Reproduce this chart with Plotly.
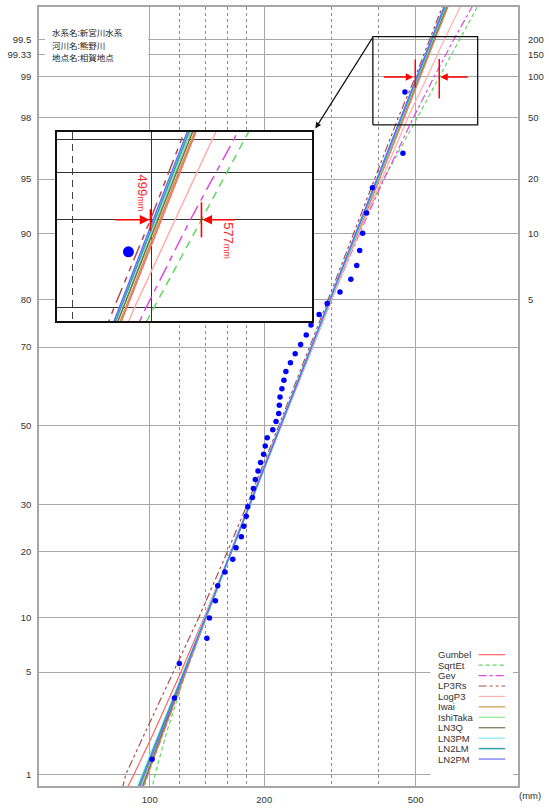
import math
from statistics import NormalDist
import plotly.graph_objects as go

# ---------------- data ----------------
# annual maximum rainfall (mm), ascending order
rain_mm = [101.4, 116.1, 119.6, 141.3, 143.5, 148.8, 150.9, 157.6, 165.3, 168.6,
           174.1, 176.8, 179.3, 181.0, 186.2, 187.3, 189.5, 192.6, 195.6, 199.2,
           201.2, 203.6, 210.6, 214.8, 218.3, 219.1, 220.0, 222.6, 225.3, 228.0,
           234.4, 241.2, 249.3, 257.9, 265.4, 278.8, 292.8, 316.3, 337.8, 350.1,
           356.4, 362.8, 371.5, 385.0, 463.1, 468.7]

# fitted quantiles (mm) at these non-exceedance probabilities (%)
fit_probs = [0.5, 1, 2, 5, 10, 20, 30, 50, 70, 80, 90, 95, 98, 99, 99.5, 99.8]
gumbel   = [81.2, 90.9, 102.2, 120.7, 138.9, 163.7, 183.7, 222.0, 267.9, 300.4, 352.3, 402.1, 466.6, 514.9, 563.1, 626.5]
sqrtet   = [98.0, 103.3, 110.5, 124.5, 141.0, 164.0, 183.5, 220.0, 265.5, 298.0, 352.0, 412.0, 505.0, 577.0, 652.0, 757.0]
gev      = [92.0, 99.0, 108.5, 124.5, 140.5, 163.0, 182.5, 219.5, 266.0, 300.0, 356.0, 413.0, 493.0, 559.0, 630.0, 735.0]
lp3rs    = [82.0, 86.5, 97.0, 115.5, 134.5, 160.0, 180.5, 218.5, 263.5, 294.5, 343.5, 390.0, 450.0, 499.0, 545.0, 605.0]
logp3    = [90.0, 97.5, 107.5, 124.0, 140.5, 163.5, 183.0, 220.5, 267.0, 300.5, 354.5, 407.0, 477.0, 536.0, 595.0, 680.0]
iwai     = [91.0, 98.8, 108.3, 124.4, 140.6, 163.6, 183.0, 220.3, 266.2, 299.0, 351.0, 401.0, 465.0, 512.5, 561.0, 626.0]
ishitaka = [89.5, 97.5, 107.2, 123.6, 140.1, 163.5, 183.2, 220.8, 266.5, 298.8, 350.2, 399.2, 462.0, 508.0, 555.0, 618.0]
ln3q     = [90.5, 98.2, 107.6, 123.8, 140.2, 163.5, 183.0, 220.5, 266.0, 298.2, 349.5, 398.5, 461.5, 509.5, 557.5, 622.0]
ln3pm    = [87.5, 95.9, 106.0, 122.9, 140.0, 163.8, 183.6, 221.3, 266.6, 298.3, 348.9, 397.0, 459.0, 505.6, 552.4, 614.5]
ln2lm    = [88.0, 96.3, 106.3, 123.0, 140.0, 163.7, 183.4, 221.0, 266.3, 298.0, 348.6, 396.8, 458.8, 505.5, 552.5, 615.0]
ln2pm    = [88.7, 96.9, 106.7, 123.4, 140.3, 163.9, 183.5, 220.8, 265.8, 297.3, 347.5, 395.3, 456.7, 502.9, 549.6, 611.7]

dist_names = ["Gumbel", "SqrtEt", "Gev", "LP3Rs", "LogP3", "Iwai",
              "IshiTaka", "LN3Q", "LN3PM", "LN2LM", "LN2PM"]
dist_values = [gumbel, sqrtet, gev, lp3rs, logp3, iwai,
               ishitaka, ln3q, ln3pm, ln2lm, ln2pm]

# 1/100 quantile range marked on the chart
q100_min = 499
q100_max = 577

# axis labels
prob_ticks = [99.5, 99.3333, 99, 98, 95, 90, 80, 70, 50, 30, 20, 10, 5, 1]
prob_tick_text = ["99.5", "99.33", "99", "98", "95", "90", "80", "70",
                  "50", "30", "20", "10", "5", "1"]
return_periods = [200, 150, 100, 50, 20, 10, 5]
x_major = [100, 200, 500]
x_minor = [120, 140, 160, 180, 300, 400]

info_lines = ["水系名:新宮川水系", "河川名:熊野川", "地点名:相賀地点"]

# ---------------- styles ----------------
styles = {
    "Gumbel":   dict(color="#ff6464", width=1.2, dash="solid"),
    "SqrtEt":   dict(color="#5fd85f", width=1.2, dash="4px,3px"),
    "Gev":      dict(color="#e048e0", width=1.2, dash="8px,3px,3px,3px"),
    "LP3Rs":    dict(color="#a8504c", width=1.2, dash="8px,3px,3px,3px,3px,3px"),
    "LogP3":    dict(color="#ffadad", width=1.2, dash="solid"),
    "Iwai":     dict(color="#c89a48", width=1.2, dash="solid"),
    "IshiTaka": dict(color="#8ee88e", width=1.2, dash="solid"),
    "LN3Q":     dict(color="#7a6e52", width=1.2, dash="solid"),
    "LN3PM":    dict(color="#9ceeee", width=2.4, dash="solid"),
    "LN2LM":    dict(color="#2fa6a6", width=1.5, dash="solid"),
    "LN2PM":    dict(color="#6a6aff", width=1.2, dash="solid"),
}


def scale_dash(d, k):
    if d == "solid":
        return d
    return ",".join(f"{float(v.replace('px', '')) * k:g}px" for v in d.split(","))


nd = NormalDist()


def zq(pct):
    """Normal quantile used as the probability-paper coordinate."""
    return nd.inv_cdf(pct / 100.0)


n = len(rain_mm)
plot_pos = [(i - 0.4) / (n + 0.2) * 100 for i in range(1, n + 1)]  # Cunnane
fit_z = [zq(p) for p in fit_probs]

# ---------------- geometry helpers (pixels -> paper) ----------------
W, H = 549, 810
PL, PR, PT, PB = 39, 526, 5, 794


def px(x):
    return (x - PL) / (PR - PL)


def py(y):
    return (PB - y) / (PB - PT)


X_RANGE = [1.7088, 2.9682]
Y_RANGE = [-2.4045, 2.7931]
INSET_X_RANGE = [2.5826, 2.898]
INSET_Y_RANGE = [2.0107, 2.599]

fig = go.Figure()

# fitted curves, main chart
for name, vals in zip(dist_names, dist_values):
    st = styles[name]
    fig.add_trace(go.Scatter(x=vals, y=fit_z, mode="lines", name=name,
                             line=dict(color=st["color"], width=st["width"], dash=st["dash"]),
                             xaxis="x", yaxis="y", hoverinfo="skip", showlegend=False))

# observed points
fig.add_trace(go.Scatter(x=rain_mm, y=[zq(p) for p in plot_pos], mode="markers",
                         marker=dict(color="#0000ff", size=5.5),
                         xaxis="x", yaxis="y", hoverinfo="skip", showlegend=False))

# magnified box on the main chart
bx = [386, 728]
bz = [2.007, 2.5955]
fig.add_trace(go.Scatter(x=[bx[0], bx[1], bx[1], bx[0], bx[0]],
                         y=[bz[0], bz[0], bz[1], bz[1], bz[0]], mode="lines",
                         line=dict(color="#111111", width=1.3),
                         xaxis="x", yaxis="y", hoverinfo="skip", showlegend=False))

# red markers of the 1/100 range, main chart
for xv, (z0, z1) in [(q100_min, (2.255, 2.442)), (q100_max, (2.183, 2.446))]:
    fig.add_trace(go.Scatter(x=[xv, xv], y=[z0, z1], mode="lines",
                             line=dict(color="#ff0000", width=1.5),
                             xaxis="x", yaxis="y", hoverinfo="skip", showlegend=False))

# return-period axis (right side)
fig.add_trace(go.Scatter(x=[200], y=[0], mode="markers", marker=dict(opacity=0),
                         xaxis="x", yaxis="y3", hoverinfo="skip", showlegend=False))

# inset: same curves magnified
for name, vals in zip(dist_names, dist_values):
    st = styles[name]
    fig.add_trace(go.Scatter(x=vals, y=fit_z, mode="lines",
                             line=dict(color=st["color"], width=max(st["width"], 1.5),
                                       dash=scale_dash(st["dash"], 2.0)),
                             xaxis="x2", yaxis="y2", hoverinfo="skip", showlegend=False))
fig.add_trace(go.Scatter(x=rain_mm, y=[zq(p) for p in plot_pos], mode="markers",
                         marker=dict(color="#0000ff", size=11),
                         xaxis="x2", yaxis="y2", hoverinfo="skip", showlegend=False))
for xv, (z0, z1) in [(q100_min, (2.292, 2.3587)), (q100_max, (2.2718, 2.3811))]:
    fig.add_trace(go.Scatter(x=[xv, xv], y=[z0, z1], mode="lines",
                             line=dict(color="#ff0000", width=1.6),
                             xaxis="x2", yaxis="y2", hoverinfo="skip", showlegend=False))

tickfont = dict(family="Liberation Sans, Arial, sans-serif", size=9.5, color="#333333")
grid_c = "#a6a6a6"

fig.update_layout(
    width=W, height=H,
    margin=dict(l=PL, r=W - PR, t=PT, b=H - PB),
    paper_bgcolor="white", plot_bgcolor="white",
    showlegend=False,
    xaxis=dict(type="log", range=X_RANGE, domain=[0, 1], anchor="y",
               tickmode="array", tickvals=x_major, ticktext=[str(v) for v in x_major],
               showgrid=True, gridcolor=grid_c, gridwidth=1,
               minor=dict(tickvals=x_minor, showgrid=True, gridcolor="#8c8c8c",
                          griddash="3px,3px", gridwidth=1, ticks=""),
               showline=True, mirror=True, linecolor=grid_c, linewidth=1.6,
               ticks="", ticklabelstandoff=4, tickfont=tickfont, zeroline=False),
    yaxis=dict(range=Y_RANGE, domain=[0, 1], anchor="x",
               tickmode="array", tickvals=[zq(p) for p in prob_ticks], ticktext=prob_tick_text,
               showgrid=True, gridcolor=grid_c, gridwidth=1,
               showline=True, mirror=True, linecolor=grid_c, linewidth=1.6,
               ticks="", ticklabelstandoff=4, tickfont=tickfont, zeroline=False),
    yaxis3=dict(range=Y_RANGE, overlaying="y", side="right", anchor="x",
                tickmode="array", tickvals=[zq(100 * (1 - 1 / t)) for t in return_periods],
                ticktext=[str(t) for t in return_periods],
                showgrid=False, showline=False, zeroline=False, ticks="",
                ticklabelstandoff=9, tickfont=tickfont),
    xaxis2=dict(type="log", range=INSET_X_RANGE, domain=[px(57.3), px(316.7)], anchor="y2",
                tickmode="array", tickvals=[500], showticklabels=False,
                showgrid=True, gridcolor="#333333", gridwidth=1.4,
                minor=dict(tickvals=[400], showgrid=True, gridcolor="#444444",
                           griddash="7px,5px", gridwidth=1.4, ticks=""),
                showline=True, mirror=True, linecolor="#111111", linewidth=1.5,
                ticks="", zeroline=False),
    yaxis2=dict(range=INSET_Y_RANGE, domain=[py(323.3), py(131.7)], anchor="x2",
                tickmode="array", tickvals=[zq(p) for p in [99.5, 99.3333, 99, 98]],
                showticklabels=False, showgrid=True, gridcolor="#333333", gridwidth=1.4,
                showline=True, mirror=True, linecolor="#111111", linewidth=1.5,
                ticks="", zeroline=False),
)

shapes = []
annotations = []

# station information block
shapes.append(dict(type="rect", xref="paper", yref="paper", layer="above",
                   x0=px(45), x1=px(150), y0=py(63), y1=py(24),
                   fillcolor="white", line=dict(width=0)))
for k, line in enumerate(info_lines):
    annotations.append(dict(xref="paper", yref="paper", x=px(51), y=py(30.8 + 12.4 * k),
                            xanchor="left", yanchor="middle", showarrow=False, text=line,
                            borderpad=0,
                            font=dict(family="Noto Sans CJK JP", size=8.5, color="#222222")))

# legend: names on the left, line samples on the right
shapes.append(dict(type="rect", xref="paper", yref="paper", layer="above",
                   x0=px(437), x1=px(521), y0=py(791), y1=py(648),
                   fillcolor="white", line=dict(width=0)))
for k, name in enumerate(dist_names):
    yy = 661 + 10.57 * k
    st = styles[name]
    annotations.append(dict(xref="paper", yref="paper", x=px(443), y=py(yy),
                            xanchor="left", yanchor="middle", showarrow=False, text=name,
                            font=dict(family="Liberation Sans, Arial, sans-serif", size=9.5,
                                      color="#333333")))
    shapes.append(dict(type="line", xref="paper", yref="paper", layer="above",
                       x0=px(486), x1=px(513), y0=py(yy), y1=py(yy),
                       line=dict(color=st["color"], width=min(st["width"], 1.5), dash=st["dash"])))

# unit label
annotations.append(dict(xref="paper", yref="paper", x=px(538), y=py(804),
                        xanchor="center", yanchor="middle", showarrow=False, text="(mm)",
                        font=dict(family="Liberation Sans, Arial, sans-serif", size=9.5,
                                  color="#333333")))

# arrow from the box to the inset
annotations.append(dict(xref="paper", yref="paper", x=px(320), y=py(128),
                        ax=378 - 320, ay=36 - 128, text="", showarrow=True,
                        arrowhead=2, arrowsize=1, arrowwidth=1.2, arrowcolor="#111111",
                        standoff=0))

# red arrows, main chart
z99 = zq(99)
annotations.append(dict(xref="x", yref="y", x=math.log10(q100_min), y=z99, ax=-33, ay=0,
                        text="", showarrow=True, arrowhead=2, arrowsize=1, arrowwidth=1.5,
                        arrowcolor="#ff0000", standoff=2))
annotations.append(dict(xref="x", yref="y", x=math.log10(q100_max), y=z99, ax=30, ay=0,
                        text="", showarrow=True, arrowhead=2, arrowsize=1, arrowwidth=1.5,
                        arrowcolor="#ff0000", standoff=1))

# red arrows and labels, inset
annotations.append(dict(xref="x2", yref="y2", x=math.log10(q100_min), y=z99, ax=-37, ay=0,
                        text="", showarrow=True, arrowhead=2, arrowsize=1.2, arrowwidth=1.6,
                        arrowcolor="#ff0000", standoff=1))
annotations.append(dict(xref="x2", yref="y2", x=math.log10(q100_max), y=z99, ax=35, ay=0,
                        text="", showarrow=True, arrowhead=2, arrowsize=1.2, arrowwidth=1.6,
                        arrowcolor="#ff0000", standoff=1))
red_font = dict(family="Liberation Sans, Arial, sans-serif", size=13, color="#ff2020")
annotations.append(dict(xref="paper", yref="paper", x=px(143.7), y=py(194),
                        xanchor="center", yanchor="middle", showarrow=False, textangle=90,
                        text=f"{q100_min}<span style='font-size:9px'>mm</span>", font=red_font))
annotations.append(dict(xref="paper", yref="paper", x=px(231.7), y=py(241.7),
                        xanchor="center", yanchor="middle", showarrow=False, textangle=90,
                        text=f"{q100_max}<span style='font-size:9px'>mm</span>", font=red_font))

fig.update_layout(shapes=shapes, annotations=annotations)

fig.write_html("out.html")
